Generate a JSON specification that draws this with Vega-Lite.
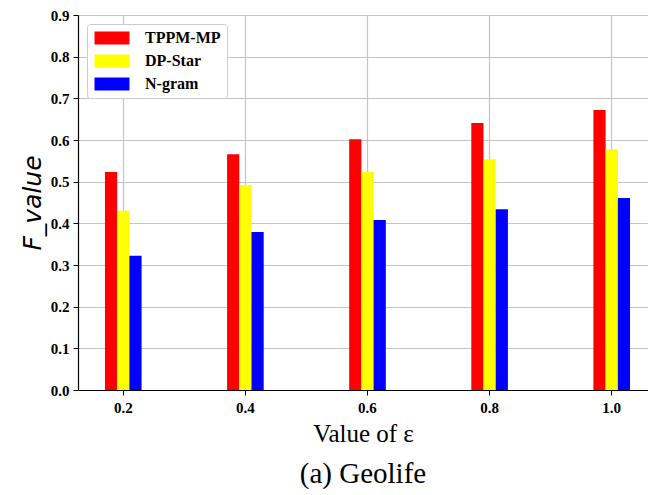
{
  "$schema": "https://vega.github.io/schema/vega-lite/v6.json",
  "width": 570,
  "height": 375,
  "autosize": "none",
  "padding": {"left": 78, "top": 15, "right": 0, "bottom": 105},
  "background": "white",
  "config": {"view": {"stroke": null}},
  "title": {"text": "(a) Geolife", "orient": "bottom", "font": "Liberation Serif", "fontSize": 29, "fontWeight": "normal", "color": "black", "offset": 14},
  "data": {"values": [
    {"eps": "0.2", "method": "TPPM-MP", "f": 0.523},
    {"eps": "0.2", "method": "DP-Star", "f": 0.430},
    {"eps": "0.2", "method": "N-gram", "f": 0.322},
    {"eps": "0.4", "method": "TPPM-MP", "f": 0.566},
    {"eps": "0.4", "method": "DP-Star", "f": 0.492},
    {"eps": "0.4", "method": "N-gram", "f": 0.379},
    {"eps": "0.6", "method": "TPPM-MP", "f": 0.602},
    {"eps": "0.6", "method": "DP-Star", "f": 0.523},
    {"eps": "0.6", "method": "N-gram", "f": 0.408},
    {"eps": "0.8", "method": "TPPM-MP", "f": 0.641},
    {"eps": "0.8", "method": "DP-Star", "f": 0.554},
    {"eps": "0.8", "method": "N-gram", "f": 0.434},
    {"eps": "1.0", "method": "TPPM-MP", "f": 0.672},
    {"eps": "1.0", "method": "DP-Star", "f": 0.578},
    {"eps": "1.0", "method": "N-gram", "f": 0.461}
  ]},
  "mark": {"type": "bar"},
  "encoding": {
    "x": {
      "field": "eps", "type": "ordinal", "sort": ["0.2", "0.4", "0.6", "0.8", "1.0"],
      "scale": {"paddingInner": 0.7, "paddingOuter": 0.184, "align": 0.6},
      "axis": {
        "title": "Value of ε", "titleFont": "Liberation Serif", "titleFontSize": 25, "titleFontWeight": "normal", "titleColor": "black", "titlePadding": 6,
        "labelAngle": 0, "labelFont": "Liberation Serif", "labelFontWeight": "bold", "labelFontSize": 15, "labelColor": "black", "labelPadding": 5,
        "bandPosition": 0.5, "grid": true, "gridColor": "#c4c4c4", "gridWidth": 1.2,
        "domainColor": "black", "domainWidth": 1.2, "tickColor": "black", "tickSize": 5
      }
    },
    "xOffset": {"field": "method", "type": "nominal", "sort": ["TPPM-MP", "DP-Star", "N-gram"]},
    "y": {
      "field": "f", "type": "quantitative",
      "scale": {"domain": [0, 0.9], "nice": false},
      "axis": {
        "title": "F_value", "titleFont": "DejaVu Sans", "titleFontStyle": "italic", "titleFontSize": 25, "titleFontWeight": "normal", "titleColor": "black", "titlePadding": 5,
        "values": [0, 0.1, 0.2, 0.3, 0.4, 0.5, 0.6, 0.7, 0.8, 0.9], "format": ".1f",
        "labelFont": "Liberation Serif", "labelFontWeight": "bold", "labelFontSize": 15, "labelColor": "black", "labelPadding": 4,
        "grid": true, "gridColor": "#c4c4c4", "gridWidth": 1.2,
        "domainColor": "black", "domainWidth": 1.2, "tickColor": "black", "tickSize": 5
      }
    },
    "color": {
      "field": "method", "type": "nominal", "sort": ["TPPM-MP", "DP-Star", "N-gram"],
      "scale": {"domain": ["TPPM-MP", "DP-Star", "N-gram"], "range": ["#ff0000", "#ffff00", "#0000ff"]},
      "legend": {
        "orient": "top-left", "offset": 9, "title": null,
        "symbolType": "M-2.69,-1L2.69,-1L2.69,1L-2.69,1Z", "symbolSize": 169, "symbolOffset": 11, "symbolStrokeWidth": 0, "symbolOpacity": 1,
        "labelFont": "Liberation Serif", "labelFontWeight": "bold", "labelFontSize": 16, "labelColor": "black", "labelOffset": 25,
        "strokeColor": "#cccccc", "cornerRadius": 3, "padding": 6, "fillColor": "white", "rowPadding": 7
      }
    }
  }
}
